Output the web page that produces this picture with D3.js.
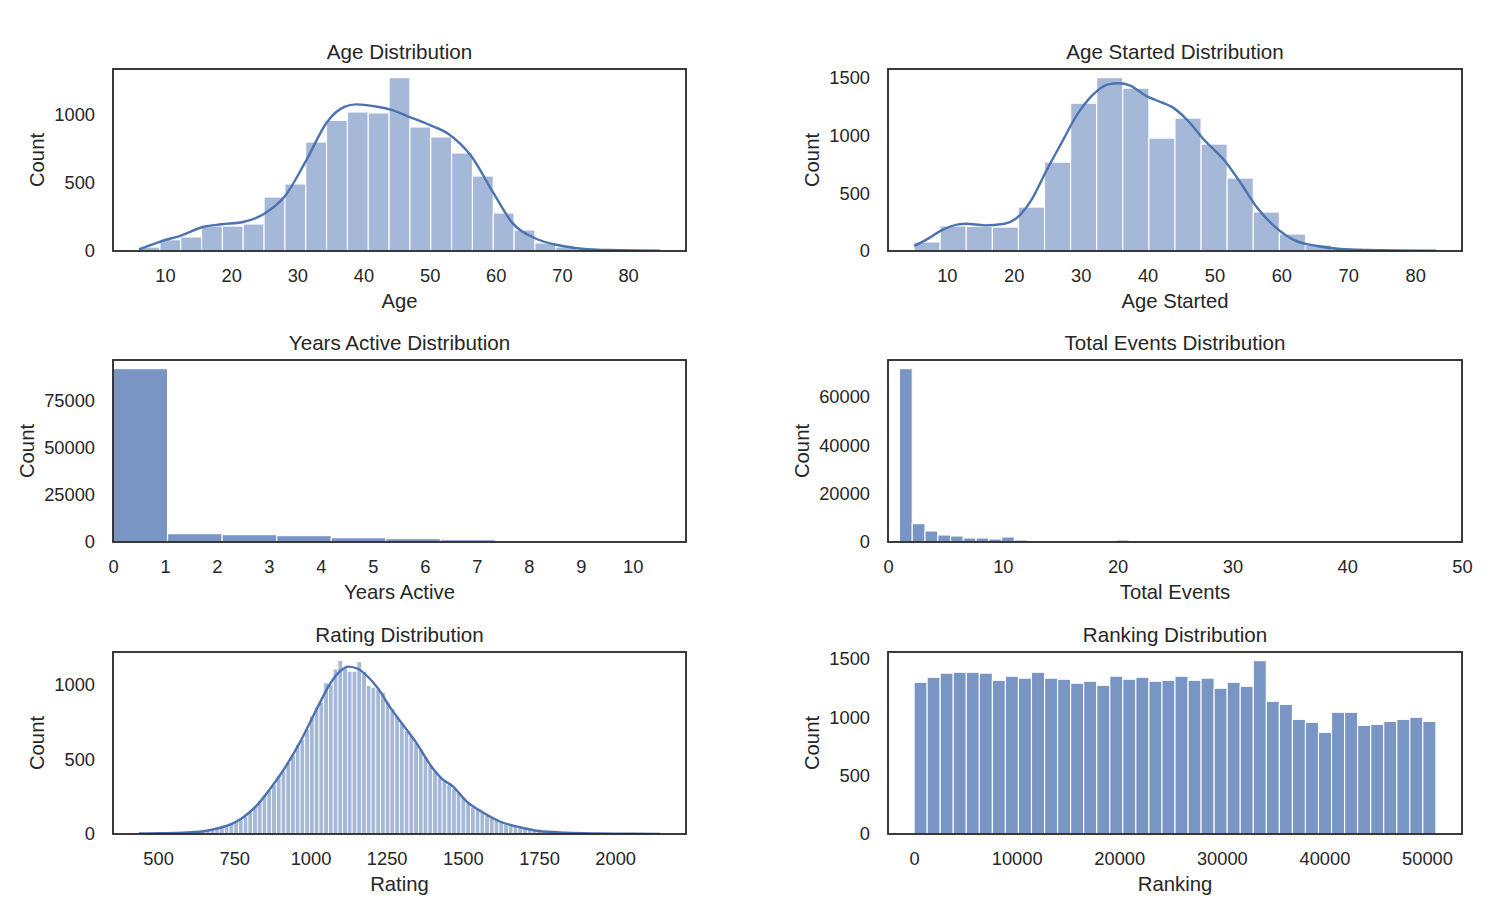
<!DOCTYPE html>
<html><head><meta charset="utf-8">
<script src="https://cdn.jsdelivr.net/npm/d3@7/dist/d3.min.js"></script>
<style>
body{margin:0;background:#fff;}
text{font-family:"Liberation Sans",Arial,Helvetica,sans-serif;fill:#262626;}
</style>
</head><body>
<svg id="c" width="1502" height="914"></svg>
<script>
// ---------------- DATA ----------------
const ageBinStart = 6.07, ageBinWidth = 3.15;
const ageCounts = [29,83,103,183,183,198,396,492,800,959,1020,1013,1272,910,837,719,550,279,154,59,29,15,10,7,5];
const ageKde = [[6.07,12],[9.4,71],[12.5,115],[15.7,176],[18.6,196],[21.8,213],[25.0,274],[28.2,408],[31.35,665],[34.5,947],[37.1,1057],[38.9,1076],[42.3,1057],[44.1,1037],[47.0,983],[49.9,927],[52.8,861],[56.2,702],[59.7,421],[62.6,201],[66.1,90],[69.5,42],[73.0,17],[77.1,7],[84.8,3]];
const ageXTicks = [10,20,30,40,50,60,70,80];
const ageYTicks = [0,500,1000];

const startedBinStart = 5.1, startedBinWidth = 3.9;
const startedCounts = [78,216,213,207,380,769,1279,1500,1409,977,1150,925,631,337,147,52,17,9,6,4];
const startedKde = [[5.1,43],[7.2,107],[9.2,179],[11.7,230],[12.9,236],[15.7,222],[18.6,236],[20.3,279],[22.6,438],[24.9,697],[27.2,942],[29.4,1173],[31.7,1345],[34.0,1440],[35.7,1452],[37.4,1432],[39.7,1345],[42.0,1288],[43.7,1245],[46.0,1129],[48.3,971],[51.7,769],[54.0,582],[56.3,380],[59.1,207],[62.0,92],[65.4,43],[68.8,17],[72.8,9],[83.1,3]];
const startedXTicks = [10,20,30,40,50,60,70,80];
const startedYTicks = [0,500,1000,1500];

const yearsBinStart = 0, yearsBinWidth = 1.05;
const yearsCounts = [92200,4400,3900,3370,2300,1770,1240,300,150,60];
const yearsXTicks = [0,1,2,3,4,5,6,7,8,9,10];
const yearsYTicks = [0,25000,50000,75000];
const yearsXRange = [0, 11.025];

const eventsBinStart = 1, eventsBinWidth = 1.112;
const eventsCounts = [71700,7590,4550,2900,2480,1650,1650,1240,2070,830,400,300,250,200,150,150,120,830,100,80,60,50,40,40,30,30,25,20,20,15,15,12,10,10,10,8,8,6,6,5,5,4,4,3];
const eventsXTicks = [0,10,20,30,40,50];
const eventsYTicks = [0,20000,40000,60000];
const eventsXRange = [0, 50];

const ratingBinStart = 437.5, ratingBinWidth = 15.54;
const ratingCounts = [2,3,3,4,5,6,6,7,8,10,12,14,17,20,24,30,38,50,60,72,86,100,118,150,182,225,262,290,330,390,425,478,530,600,632,700,790,850,880,1011,1000,1104,1160,1116,1089,1089,1153,1087,993,982,971,949,880,838,790,740,690,660,610,570,515,460,420,380,355,330,305,280,245,210,180,165,148,128,110,95,80,68,58,50,44,38,30,24,20,17,14,12,10,9,8,7,7,6,6,5,5,5,4,4,4,3,3,3,2,2,2,2,2,1];
const ratingKde = [[437,3],[500,5],[560,7],[620,13],[660,22],[700,40],[740,66],[770,98],[802,149],[830,205],[856,271],[911,427],[966,616],[1021,838],[1064,1004],[1097,1089],[1124,1120],[1157,1104],[1190,1049],[1223,971],[1261,849],[1305,727],[1349,605],[1398,449],[1431,371],[1469,316],[1513,216],[1562,149],[1624,82],[1687,45],[1750,20],[1838,9],[1938,4],[2050,2],[2147,1]];
const ratingXTicks = [500,750,1000,1250,1500,1750,2000];
const ratingYTicks = [0,500,1000];

const rankingBinStart = 1, rankingBinWidth = 1271.7;
const rankingCounts = [1300,1343,1378,1386,1386,1378,1317,1352,1335,1386,1335,1326,1292,1309,1274,1352,1326,1343,1309,1317,1352,1317,1335,1249,1300,1266,1485,1137,1111,982,957,871,1043,1043,931,939,965,982,1000,965];
const rankingXTicks = [0,10000,20000,30000,40000,50000];
const rankingYTicks = [0,500,1000,1500];

// ---------------- LAYOUT ----------------
const colX = [[113,686],[888,1462]];
const rowY = [[69,251],[360,542],[652,834]];
const C0 = "#4c72b0";

const panels = [
  {title:"Age Distribution", xlabel:"Age", counts:ageCounts, b0:ageBinStart, bw:ageBinWidth, kde:ageKde, xt:ageXTicks, yt:ageYTicks, col:0,row:0},
  {title:"Age Started Distribution", xlabel:"Age Started", counts:startedCounts, b0:startedBinStart, bw:startedBinWidth, kde:startedKde, xt:startedXTicks, yt:startedYTicks, col:1,row:0},
  {title:"Years Active Distribution", xlabel:"Years Active", counts:yearsCounts, b0:yearsBinStart, bw:yearsBinWidth, xt:yearsXTicks, yt:yearsYTicks, xr:yearsXRange, col:0,row:1},
  {title:"Total Events Distribution", xlabel:"Total Events", counts:eventsCounts, b0:eventsBinStart, bw:eventsBinWidth, xt:eventsXTicks, yt:eventsYTicks, xr:eventsXRange, col:1,row:1},
  {title:"Rating Distribution", xlabel:"Rating", counts:ratingCounts, b0:ratingBinStart, bw:ratingBinWidth, kde:ratingKde, xt:ratingXTicks, yt:ratingYTicks, col:0,row:2},
  {title:"Ranking Distribution", xlabel:"Ranking", counts:rankingCounts, b0:rankingBinStart, bw:rankingBinWidth, xt:rankingXTicks, yt:rankingYTicks, col:1,row:2}
];

const svg = d3.select("#c");
const FONT = '"Liberation Sans",Arial,Helvetica,sans-serif';

panels.forEach(p => {
  const [x0,x1] = colX[p.col], [y0,y1] = rowY[p.row];
  const bins = p.counts.map((c,i)=>({lo:p.b0+i*p.bw, hi:p.b0+(i+1)*p.bw, c}));
  const lo = p.b0, hi = p.b0 + p.counts.length*p.bw, R = hi-lo;
  const xd = p.xr ? p.xr : [lo-0.05*R, hi+0.05*R];
  const x = d3.scaleLinear().domain(xd).range([x0,x1]);
  let ymax = d3.max(p.counts);
  if (p.kde) ymax = Math.max(ymax, d3.max(p.kde, d=>d[1]));
  const y = d3.scaleLinear().domain([0, ymax*1.05]).range([y1,y0]);

  const g = svg.append("g");
  const clipId = "clip"+p.col+p.row;
  g.append("clipPath").attr("id",clipId).append("rect").attr("x",x0).attr("y",y0).attr("width",x1-x0).attr("height",y1-y0);
  const plot = g.append("g").attr("clip-path",`url(#${clipId})`);

  plot.selectAll("rect.bar").data(bins).join("rect").attr("class","bar")
    .attr("x", d=>x(d.lo)).attr("width", d=>Math.max(0,x(d.hi)-x(d.lo)))
    .attr("y", d=>y(d.c)).attr("height", d=>y(0)-y(d.c))
    .attr("fill", C0).attr("fill-opacity", p.kde ? 0.5 : 0.75)
    .attr("stroke","#fff").attr("stroke-width", p.kde && p.counts.length>60 ? 0.8 : 1.1);

  if (p.kde) {
    const line = d3.line().x(d=>x(d[0])).y(d=>y(d[1])).curve(d3.curveMonotoneX);
    plot.append("path").attr("d", line(p.kde)).attr("fill","none").attr("stroke",C0).attr("stroke-width",2.4);
  }

  // axes
  const ax = g.append("g").attr("transform",`translate(0,${y1})`)
    .call(d3.axisBottom(x).tickValues(p.xt).tickSize(0).tickPadding(18).tickFormat(d3.format("d")));
  ax.select(".domain").remove();
  ax.selectAll("text").attr("font-size","18.3px").attr("font-family",FONT).attr("fill","#262626");
  ax.attr("font-family",FONT);

  const ay = g.append("g").attr("transform",`translate(${x0},0)`)
    .call(d3.axisLeft(y).tickValues(p.yt).tickSize(0).tickPadding(18).tickFormat(d3.format("d")));
  ay.select(".domain").remove();
  ay.selectAll("text").attr("font-size","18.3px").attr("font-family",FONT).attr("fill","#262626");
  ay.attr("font-family",FONT);

  let maxW = 0;
  ay.selectAll("text").each(function(){ maxW = Math.max(maxW, this.getComputedTextLength()); });

  // frame
  g.append("rect").attr("x",x0).attr("y",y0).attr("width",x1-x0).attr("height",y1-y0)
    .attr("fill","none").attr("stroke","#262626").attr("stroke-width",1.8);

  // title & labels
  g.append("text").attr("x",(x0+x1)/2).attr("y",y0-10).attr("text-anchor","middle")
    .attr("font-size","20.6px").text(p.title);
  g.append("text").attr("x",(x0+x1)/2).attr("y",y1+56.5).attr("text-anchor","middle")
    .attr("font-size","20.3px").text(p.xlabel);
  const lx = x0 - 18 - maxW - 10;
  g.append("text").attr("transform",`translate(${lx},${(y0+y1)/2}) rotate(-90)`).attr("text-anchor","middle")
    .attr("font-size","20.3px").text("Count");
});
</script>
</body></html>
